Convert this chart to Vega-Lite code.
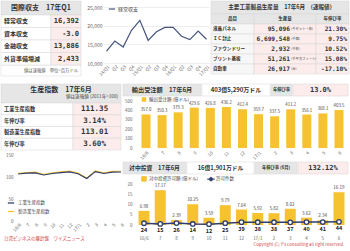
{
"$schema":"https://vega.github.io/schema/vega-lite/v6.json",
"padding":0,
"background":"#ffffff",
"spacing":6,
"resolve":{"scale":{"color":"independent"},"legend":{"color":"independent"}},
"config":{
 "view":{"stroke":null},
 "font":"Noto Sans CJK JP",
 "axis":{"domain":false,"ticks":false,"grid":false,"labelColor":"#666666","labelFont":"Noto Sans CJK JP","labelFontSize":4.5},
 "legend":{"labelFont":"Noto Sans CJK JP","labelColor":"#444444","labelFontSize":4.5,"padding":0},
 "rect":{"stroke":"#D5D5D5","strokeWidth":0.5}
},
"datasets":{
 "bop":[{"item":"経常収支","val":"16,392"},{"item":"資本収支","val":"-3.0"},{"item":"金融収支","val":"13,886"},{"item":"外貨準備増減","val":"2,433"}],
 "ca":[
  {"q":"2014-Q1","v":13200,"s":"経常収支"},{"q":"2014-Q2","v":15900,"s":"経常収支"},{"q":"2014-Q3","v":14300,"s":"経常収支"},{"q":"2014-Q4","v":18800,"s":"経常収支"},
  {"q":"2015-Q1","v":21500,"s":"経常収支"},{"q":"2015-Q2","v":16100,"s":"経常収支"},{"q":"2015-Q3","v":18400,"s":"経常収支"},{"q":"2015-Q4","v":19600,"s":"経常収支"},
  {"q":"2016-Q1","v":19600,"s":"経常収支"},{"q":"2016-Q2","v":17200,"s":"経常収支"},{"q":"2016-Q3","v":16300,"s":"経常収支"},{"q":"2016-Q4","v":18600,"s":"経常収支"},
  {"q":"2017-Q1","v":16392,"s":"経常収支"}],
 "prod":[
  {"k":"head","a":"品目","b":"生産量","u":"","c":"年伸び率"},
  {"k":"body","a":"液晶パネル","b":"95,096","u":"(千セット・枚)","c":"21.30%"},
  {"k":"body","a":"ＩＣ封止","b":"6,699,548","u":"(千個)","c":"9.75%"},
  {"k":"body","a":"ファウンドリー","b":"2,932","u":"(千枚)","c":"10.52%"},
  {"k":"body","a":"プリント基板","b":"51,261","u":"(千平方フィート)","c":"15.08%"},
  {"k":"body","a":"自動車","b":"26,917","u":"(台)","c":"-17.10%"}],
 "ipi":[{"id":"1","a":"工業生産指数","v":"111.35"},{"id":"2","a":"年伸び率","v":"3.14%"},{"id":"3","a":"製造業生産指数","v":"113.01"},{"id":"4","a":"年伸び率","v":"3.60%"}],
 "ipis":[
  {"m":"16/6","s":"製造業生産指数","v":108.3},{"m":"7","s":"製造業生産指数","v":110.4},{"m":"8","s":"製造業生産指数","v":111.0},{"m":"9","s":"製造業生産指数","v":105.9},{"m":"10","s":"製造業生産指数","v":109.6},{"m":"11","s":"製造業生産指数","v":111.6},{"m":"12","s":"製造業生産指数","v":113.5},{"m":"17/1","s":"製造業生産指数","v":109.1},{"m":"2","s":"製造業生産指数","v":97.6},{"m":"3","s":"製造業生産指数","v":114.0},{"m":"4","s":"製造業生産指数","v":109.6},{"m":"5","s":"製造業生産指数","v":112.7},{"m":"6","s":"製造業生産指数","v":113.01},
  {"m":"16/6","s":"工業生産指数","v":107.0},{"m":"7","s":"工業生産指数","v":108.9},{"m":"8","s":"工業生産指数","v":109.4},{"m":"9","s":"工業生産指数","v":104.6},{"m":"10","s":"工業生産指数","v":108.1},{"m":"11","s":"工業生産指数","v":110.0},{"m":"12","s":"工業生産指数","v":111.7},{"m":"17/1","s":"工業生産指数","v":107.5},{"m":"2","s":"工業生産指数","v":96.5},{"m":"3","s":"工業生産指数","v":112.3},{"m":"4","s":"工業生産指数","v":108.0},{"m":"5","s":"工業生産指数","v":111.0},{"m":"6","s":"工業生産指数","v":111.35}],
 "orders":[{"m":"16/6","v":357.0},{"m":"7","v":350.3},{"m":"8","v":379.3},{"m":"9","v":429.6},{"m":"10","v":426.8},{"m":"11","v":436.2},{"m":"12","v":412.4},{"m":"17/1","v":359.7},{"m":"2","v":337.5},{"m":"3","v":411.2},{"m":"4","v":356.1},{"m":"5","v":368.1},{"m":"6","v":403.5}],
 "inv":[{"m":"16/6","amt":6.98,"n":24},{"m":"7","amt":17.17,"n":15},{"m":"8","amt":2.39,"n":26},{"m":"9","amt":10.25,"n":14},{"m":"10","amt":3.59,"n":12},{"m":"11","amt":9.79,"n":25},{"m":"12","amt":7.64,"n":39},{"m":"17/1","amt":5.92,"n":38},{"m":"2","amt":5.82,"n":38},{"m":"3","amt":8.02,"n":37},{"m":"4","amt":3.62,"n":40},{"m":"5","amt":2.34,"n":41},{"m":"6","amt":16.19,"n":44}]
},
"vconcat":[
 {"hconcat":[
   {"width":101,"height":75,
    "layer":[
     {"data":{"values":[{"t":"国際収支　17年Q1","f":"値は速報値　単位=百万ドル"}]},
      "layer":[
       {"mark":{"type":"rect","fill":"#E6E6E6"},"encoding":{"x":{"datum":0,"type":"quantitative","scale":{"domain":[0,1]},"axis":null},"x2":{"datum":0.792},"y":{"datum":0.8133,"type":"quantitative","scale":{"domain":[0,1]},"axis":null},"y2":{"datum":1}}},
       {"mark":{"type":"text","fontSize":7,"fontWeight":"bold","color":"#333333"},"encoding":{"x":{"datum":0.396,"type":"quantitative"},"y":{"datum":0.9067,"type":"quantitative"},"text":{"field":"t"}}},
       {"mark":{"type":"rect","fill":"#FFFFFF"},"encoding":{"x":{"datum":0,"type":"quantitative"},"x2":{"datum":0.792},"y":{"datum":0,"type":"quantitative"},"y2":{"datum":0.1467}}},
       {"mark":{"type":"text","align":"right","dx":-3,"fontSize":4.3,"color":"#555555"},"encoding":{"x":{"datum":0.792,"type":"quantitative"},"y":{"datum":0.0733,"type":"quantitative"},"text":{"field":"f"}}}
      ]},
     {"data":{"name":"bop"},
      "layer":[
       {"mark":{"type":"rect","fill":"#FFFFFF"},"encoding":{"x":{"datum":0,"type":"quantitative","scale":{"domain":[0,1]},"axis":null},"x2":{"datum":0.495},"y":{"field":"item","type":"nominal","sort":null,"scale":{"paddingInner":0,"paddingOuter":1,"align":0.56},"axis":null}}},
       {"mark":{"type":"rect","fill":"#FCEDEC"},"encoding":{"x":{"datum":0.495,"type":"quantitative"},"x2":{"datum":0.792},"y":{"field":"item","type":"nominal","sort":null}}},
       {"mark":{"type":"text","align":"left","dx":3,"fontSize":6,"fontWeight":"bold","color":"#333333"},"encoding":{"x":{"datum":0,"type":"quantitative"},"y":{"field":"item","type":"nominal","sort":null},"text":{"field":"item"}}},
       {"mark":{"type":"text","align":"right","dx":-2,"font":"DejaVu Sans Mono","fontSize":7,"fontWeight":"bold","color":"#333333"},"encoding":{"x":{"datum":0.792,"type":"quantitative"},"y":{"field":"item","type":"nominal","sort":null},"text":{"field":"val"}}}
      ]}
    ],
    "resolve":{"scale":{"x":"independent","y":"independent"}}},
   {"width":105,"height":62,"data":{"name":"ca"},
    "mark":{"type":"line","strokeWidth":1.2},
    "encoding":{
     "x":{"field":"q","type":"nominal","sort":null,"scale":{"type":"point","padding":0.3},"axis":{"title":null,"labelAngle":-45,"labelFontSize":4.5,"labelPadding":1,"labelExpr":"indexof(datum.value,'Q1') > 0 ? slice(datum.value,2,4) + '/Q1' : slice(datum.value,5)"}},
     "y":{"field":"v","type":"quantitative","scale":{"domain":[10000,26700],"nice":false,"zero":false},"axis":{"title":null,"values":[10000,15000,20000,25000],"grid":true,"gridColor":"#E3E3E3","gridWidth":0.6,"labelFontSize":5,"labelPadding":2}},
     "color":{"field":"s","type":"nominal","scale":{"range":["#45557F"]},"legend":{"title":null,"orient":"top-left","offset":4,"symbolType":"stroke","symbolSize":40,"symbolStrokeWidth":1.2,"labelFontSize":5,"labelOffset":2}}
    }},
   {"width":138,"height":73,
    "layer":[
     {"data":{"values":[{"t":"主要工業製品生産量　17年6月　(速報値)"}]},
      "layer":[
       {"mark":{"type":"rect","fill":"#E6E6E6"},"encoding":{"x":{"datum":0,"type":"quantitative","scale":{"domain":[0,1]},"axis":null},"x2":{"datum":1},"y":{"datum":0.8219,"type":"quantitative","scale":{"domain":[0,1]},"axis":null},"y2":{"datum":1}}},
       {"mark":{"type":"text","fontSize":5.6,"fontWeight":"bold","color":"#333333"},"encoding":{"x":{"datum":0.5,"type":"quantitative"},"y":{"datum":0.911,"type":"quantitative"},"text":{"field":"t"}}}
      ]},
     {"data":{"name":"prod"},
      "layer":[
       {"mark":{"type":"rect"},"encoding":{"x":{"datum":0,"type":"quantitative","scale":{"domain":[0,1]},"axis":null},"x2":{"datum":0.3116},"y":{"field":"a","type":"nominal","sort":null,"scale":{"domain":["品目","液晶パネル","ＩＣ封止","ファウンドリー","プリント基板","自動車"],"paddingInner":0,"paddingOuter":0.65,"align":1},"axis":null},"fill":{"condition":{"test":"datum.k === 'head'","value":"#E6E6E6"},"value":"#F7F7F7"}}},
       {"mark":{"type":"rect"},"encoding":{"x":{"datum":0.3116,"type":"quantitative"},"x2":{"datum":0.7609},"y":{"field":"a","type":"nominal","sort":null},"fill":{"condition":{"test":"datum.k === 'head'","value":"#E6E6E6"},"value":"#FCEDEC"}}},
       {"mark":{"type":"rect"},"encoding":{"x":{"datum":0.7609,"type":"quantitative"},"x2":{"datum":1},"y":{"field":"a","type":"nominal","sort":null},"fill":{"condition":{"test":"datum.k === 'head'","value":"#E6E6E6"},"value":"#FCEDEC"}}},
       {"transform":[{"filter":"datum.k === 'head'"}],
        "layer":[
         {"mark":{"type":"text","fontSize":4.5,"fontWeight":"bold","color":"#333333"},"encoding":{"x":{"datum":0.1558,"type":"quantitative"},"y":{"field":"a","type":"nominal","sort":null},"text":{"field":"a"}}},
         {"mark":{"type":"text","fontSize":4.5,"fontWeight":"bold","color":"#333333"},"encoding":{"x":{"datum":0.5362,"type":"quantitative"},"y":{"field":"a","type":"nominal","sort":null},"text":{"field":"b"}}},
         {"mark":{"type":"text","fontSize":4.5,"fontWeight":"bold","color":"#333333"},"encoding":{"x":{"datum":0.8804,"type":"quantitative"},"y":{"field":"a","type":"nominal","sort":null},"text":{"field":"c"}}}
        ]},
       {"transform":[{"filter":"datum.k === 'body'"}],
        "layer":[
         {"mark":{"type":"text","align":"left","dx":2,"fontSize":4.6,"fontWeight":"bold","color":"#333333"},"encoding":{"x":{"datum":0,"type":"quantitative"},"y":{"field":"a","type":"nominal","sort":null},"text":{"field":"a"}}},
         {"mark":{"type":"text","align":"right","font":"DejaVu Sans Mono","fontSize":6.2,"fontWeight":"bold","color":"#333333"},"encoding":{"x":{"datum":0.5725,"type":"quantitative"},"y":{"field":"a","type":"nominal","sort":null},"text":{"field":"b"}}},
         {"mark":{"type":"text","align":"left","fontSize":3.3,"color":"#444444"},"encoding":{"x":{"datum":0.5812,"type":"quantitative"},"y":{"field":"a","type":"nominal","sort":null},"text":{"field":"u"}}},
         {"mark":{"type":"text","align":"right","dx":-2,"font":"DejaVu Sans Mono","fontSize":6.2,"fontWeight":"bold","color":"#333333"},"encoding":{"x":{"datum":1,"type":"quantitative"},"y":{"field":"a","type":"nominal","sort":null},"text":{"field":"c"}}}
        ]}
      ]}
    ],
    "resolve":{"scale":{"x":"independent","y":"independent"}}}
  ],"spacing":2,"bounds":"flush","resolve":{"scale":{"color":"independent"},"legend":{"color":"independent"}}},
 {"hconcat":[
   {"width":120,"height":137,
    "title":{"text":"台湾ビジネスの羅針盤　ワイズニュース","orient":"bottom","anchor":"start","frame":"group","offset":4,"dx":3,"fontSize":4.5,"fontWeight":"normal","color":"#D0453F","font":"Noto Sans CJK JP"},
    "layer":[
     {"layer":[
       {"data":{"values":[{"t1":"生産指数　17年6月","t2":"値は速報値 (2011年=100)"}]},
        "layer":[
         {"mark":{"type":"rect","fill":"#E6E6E6"},"encoding":{"x":{"datum":0,"type":"quantitative","scale":{"domain":[0,1]},"axis":null},"x2":{"datum":1},"y":{"datum":0.8613,"type":"quantitative","scale":{"domain":[0,1]},"axis":null},"y2":{"datum":1}}},
         {"mark":{"type":"text","fontSize":7,"fontWeight":"bold","color":"#333333"},"encoding":{"x":{"datum":0.5,"type":"quantitative"},"y":{"datum":0.9562,"type":"quantitative"},"text":{"field":"t1"}}},
         {"mark":{"type":"text","align":"right","dx":-3,"fontSize":4.6,"color":"#444444"},"encoding":{"x":{"datum":1,"type":"quantitative"},"y":{"datum":0.9015,"type":"quantitative"},"text":{"field":"t2"}}}
        ]},
       {"data":{"name":"ipi"},"transform":[{"filter":"datum.id === '1'"}],
        "layer":[
         {"mark":{"type":"rect","fill":"#FFFFFF"},"encoding":{"x":{"datum":0,"type":"quantitative"},"x2":{"datum":0.6},"y":{"datum":0.7755,"type":"quantitative"},"y2":{"datum":0.8613}}},
         {"mark":{"type":"rect","fill":"#FCEDEC"},"encoding":{"x":{"datum":0.6,"type":"quantitative"},"x2":{"datum":1},"y":{"datum":0.7755,"type":"quantitative"},"y2":{"datum":0.8613}}},
         {"mark":{"type":"text","align":"left","dx":3,"fontSize":5.2,"fontWeight":"bold","color":"#333333"},"encoding":{"x":{"datum":0,"type":"quantitative"},"y":{"datum":0.8184,"type":"quantitative"},"text":{"field":"a"}}},
         {"mark":{"type":"text","font":"DejaVu Sans Mono","fontSize":7.5,"fontWeight":"bold","color":"#333333"},"encoding":{"x":{"datum":0.78,"type":"quantitative"},"y":{"datum":0.8184,"type":"quantitative"},"text":{"field":"v"}}}
        ]},
       {"data":{"name":"ipi"},"transform":[{"filter":"datum.id === '2'"}],
        "layer":[
         {"mark":{"type":"rect","fill":"#FFFFFF"},"encoding":{"x":{"datum":0,"type":"quantitative"},"x2":{"datum":0.6},"y":{"datum":0.6898,"type":"quantitative"},"y2":{"datum":0.7755}}},
         {"mark":{"type":"rect","fill":"#FCEDEC"},"encoding":{"x":{"datum":0.6,"type":"quantitative"},"x2":{"datum":1},"y":{"datum":0.6898,"type":"quantitative"},"y2":{"datum":0.7755}}},
         {"mark":{"type":"text","align":"left","dx":3,"fontSize":5.2,"fontWeight":"bold","color":"#333333"},"encoding":{"x":{"datum":0,"type":"quantitative"},"y":{"datum":0.7327,"type":"quantitative"},"text":{"field":"a"}}},
         {"mark":{"type":"text","font":"DejaVu Sans Mono","fontSize":7.5,"fontWeight":"bold","color":"#333333"},"encoding":{"x":{"datum":0.78,"type":"quantitative"},"y":{"datum":0.7327,"type":"quantitative"},"text":{"field":"v"}}}
        ]},
       {"data":{"name":"ipi"},"transform":[{"filter":"datum.id === '3'"}],
        "layer":[
         {"mark":{"type":"rect","fill":"#FFFFFF"},"encoding":{"x":{"datum":0,"type":"quantitative"},"x2":{"datum":0.6},"y":{"datum":0.6040,"type":"quantitative"},"y2":{"datum":0.6898}}},
         {"mark":{"type":"rect","fill":"#FCEDEC"},"encoding":{"x":{"datum":0.6,"type":"quantitative"},"x2":{"datum":1},"y":{"datum":0.6040,"type":"quantitative"},"y2":{"datum":0.6898}}},
         {"mark":{"type":"text","align":"left","dx":3,"fontSize":5.2,"fontWeight":"bold","color":"#333333"},"encoding":{"x":{"datum":0,"type":"quantitative"},"y":{"datum":0.6469,"type":"quantitative"},"text":{"field":"a"}}},
         {"mark":{"type":"text","font":"DejaVu Sans Mono","fontSize":7.5,"fontWeight":"bold","color":"#333333"},"encoding":{"x":{"datum":0.78,"type":"quantitative"},"y":{"datum":0.6469,"type":"quantitative"},"text":{"field":"v"}}}
        ]},
       {"data":{"name":"ipi"},"transform":[{"filter":"datum.id === '4'"}],
        "layer":[
         {"mark":{"type":"rect","fill":"#FFFFFF"},"encoding":{"x":{"datum":0,"type":"quantitative"},"x2":{"datum":0.6},"y":{"datum":0.5182,"type":"quantitative"},"y2":{"datum":0.6040}}},
         {"mark":{"type":"rect","fill":"#FCEDEC"},"encoding":{"x":{"datum":0.6,"type":"quantitative"},"x2":{"datum":1},"y":{"datum":0.5182,"type":"quantitative"},"y2":{"datum":0.6040}}},
         {"mark":{"type":"text","align":"left","dx":3,"fontSize":5.2,"fontWeight":"bold","color":"#333333"},"encoding":{"x":{"datum":0,"type":"quantitative"},"y":{"datum":0.5611,"type":"quantitative"},"text":{"field":"a"}}},
         {"mark":{"type":"text","font":"DejaVu Sans Mono","fontSize":7.5,"fontWeight":"bold","color":"#333333"},"encoding":{"x":{"datum":0.78,"type":"quantitative"},"y":{"datum":0.5611,"type":"quantitative"},"text":{"field":"v"}}}
        ]}
      ]},
     {"data":{"name":"ipis"},
      "mark":{"type":"line","strokeWidth":1.1},
      "encoding":{
       "x":{"field":"m","type":"nominal","sort":null,"scale":{"type":"point","padding":1,"align":1},"axis":{"title":null,"orient":"bottom","labelAngle":-45,"labelPadding":1}},
       "y":{"field":"v","type":"quantitative","scale":{"domain":[0,311.4],"nice":false},"axis":{"title":null,"orient":"left","values":[0,50,100,150],"labelPadding":-12}},
       "color":{"field":"s","type":"nominal","scale":{"domain":["工業生産指数","製造業生産指数"],"range":["#2E3D6D","#F7C22F"]},"legend":{"title":null,"orient":"bottom-left","offset":6,"symbolType":"stroke","symbolSize":40,"symbolStrokeWidth":1.3,"rowPadding":1.5,"labelOffset":3}}
      }}
    ],
    "resolve":{"scale":{"x":"independent","y":"independent","color":"independent"},"axis":{"x":"independent","y":"independent"},"legend":{"color":"independent"}}},
   {"width":226,"height":141,
    "title":{"text":"Copyright (C) Y's consulting all right reserved.","orient":"bottom","anchor":"end","frame":"group","offset":3,"dx":-5,"fontSize":4.3,"fontWeight":"normal","color":"#D0453F","font":"Noto Sans CJK JP"},
    "layer":[
     {"layer":[
       {"data":{"values":[{"t":"輸出受注額　17年6月"}]},"layer":[
         {"mark":{"type":"rect","fill":"#E6E6E6"},"encoding":{"x":{"datum":0,"type":"quantitative","scale":{"domain":[0,1]},"axis":null},"x2":{"datum":0.3451},"y":{"datum":0.9149,"type":"quantitative","scale":{"domain":[0,1]},"axis":null},"y2":{"datum":1}}},
         {"mark":{"type":"text","fontSize":6.2,"fontWeight":"bold","color":"#333333"},"encoding":{"x":{"datum":0.1726,"type":"quantitative"},"y":{"datum":0.9574,"type":"quantitative"},"text":{"field":"t"}}}]},
       {"data":{"values":[{"t":"403億5,290万ドル"}]},"layer":[
         {"mark":{"type":"rect","fill":"#FFFFFF"},"encoding":{"x":{"datum":0.3496,"type":"quantitative"},"x2":{"datum":0.6504},"y":{"datum":0.9149,"type":"quantitative"},"y2":{"datum":1}}},
         {"mark":{"type":"text","fontSize":6,"fontWeight":"bold","color":"#333333"},"encoding":{"x":{"datum":0.5,"type":"quantitative"},"y":{"datum":0.9574,"type":"quantitative"},"text":{"field":"t"}}}]},
       {"data":{"values":[{"t":"年伸び率"}]},"layer":[
         {"mark":{"type":"rect","fill":"#E6E6E6"},"encoding":{"x":{"datum":0.6549,"type":"quantitative"},"x2":{"datum":0.7478},"y":{"datum":0.9149,"type":"quantitative"},"y2":{"datum":1}}},
         {"mark":{"type":"text","fontSize":4.3,"fontWeight":"bold","color":"#333333"},"encoding":{"x":{"datum":0.7013,"type":"quantitative"},"y":{"datum":0.9574,"type":"quantitative"},"text":{"field":"t"}}}]},
       {"data":{"values":[{"t":"13.0%"}]},"layer":[
         {"mark":{"type":"rect","fill":"#FCEDEC"},"encoding":{"x":{"datum":0.7522,"type":"quantitative"},"x2":{"datum":0.9956},"y":{"datum":0.9149,"type":"quantitative"},"y2":{"datum":1}}},
         {"mark":{"type":"text","font":"DejaVu Sans Mono","fontSize":7,"fontWeight":"bold","color":"#333333"},"encoding":{"x":{"datum":0.8739,"type":"quantitative"},"y":{"datum":0.9574,"type":"quantitative"},"text":{"field":"t"}}}]},
       {"data":{"values":[{"t":"対中投資　17年6月"}]},"layer":[
         {"mark":{"type":"rect","fill":"#E6E6E6"},"encoding":{"x":{"datum":0,"type":"quantitative"},"x2":{"datum":0.2788},"y":{"datum":0.3617,"type":"quantitative"},"y2":{"datum":0.4468}}},
         {"mark":{"type":"text","fontSize":5.8,"fontWeight":"bold","color":"#333333"},"encoding":{"x":{"datum":0.1394,"type":"quantitative"},"y":{"datum":0.4043,"type":"quantitative"},"text":{"field":"t"}}}]},
       {"data":{"values":[{"t":"16億1,901万ドル"}]},"layer":[
         {"mark":{"type":"rect","fill":"#FFFFFF"},"encoding":{"x":{"datum":0.2832,"type":"quantitative"},"x2":{"datum":0.5796},"y":{"datum":0.3617,"type":"quantitative"},"y2":{"datum":0.4468}}},
         {"mark":{"type":"text","fontSize":5.8,"fontWeight":"bold","color":"#333333"},"encoding":{"x":{"datum":0.4314,"type":"quantitative"},"y":{"datum":0.4043,"type":"quantitative"},"text":{"field":"t"}}}]},
       {"data":{"values":[{"t":"年伸び率 (6月)"}]},"layer":[
         {"mark":{"type":"rect","fill":"#E6E6E6"},"encoding":{"x":{"datum":0.5841,"type":"quantitative"},"x2":{"datum":0.7699},"y":{"datum":0.3617,"type":"quantitative"},"y2":{"datum":0.4468}}},
         {"mark":{"type":"text","fontSize":4.3,"fontWeight":"bold","color":"#333333"},"encoding":{"x":{"datum":0.677,"type":"quantitative"},"y":{"datum":0.4043,"type":"quantitative"},"text":{"field":"t"}}}]},
       {"data":{"values":[{"t":"132.12%"}]},"layer":[
         {"mark":{"type":"rect","fill":"#FCEDEC"},"encoding":{"x":{"datum":0.7743,"type":"quantitative"},"x2":{"datum":0.9956},"y":{"datum":0.3617,"type":"quantitative"},"y2":{"datum":0.4468}}},
         {"mark":{"type":"text","font":"DejaVu Sans Mono","fontSize":7,"fontWeight":"bold","color":"#333333"},"encoding":{"x":{"datum":0.885,"type":"quantitative"},"y":{"datum":0.4043,"type":"quantitative"},"text":{"field":"t"}}}]}
      ]},
     {"data":{"name":"orders"},
      "encoding":{
       "x":{"field":"m","type":"nominal","sort":null,"scale":{"type":"band","paddingInner":0.44,"paddingOuter":0.7475,"align":0.77},"axis":{"title":null,"orient":"bottom","offset":-77,"labelAngle":-45,"labelPadding":2}},
       "y":{"field":"v","type":"quantitative","scale":{"domain":[-819.1,680.9],"nice":false},"axis":{"title":null,"orient":"left","values":[0,100,200,300,400,500],"labelPadding":-9}}
      },
      "layer":[
       {"mark":{"type":"bar"},"encoding":{"color":{"datum":"輸出受注額 (億ドル)","type":"nominal","scale":{"range":["#F7C22F"]},"legend":{"title":null,"orient":"none","legendX":18,"legendY":12.5,"symbolType":"square","symbolSize":20,"labelFontSize":4.5,"labelOffset":2}}}},
       {"mark":{"type":"text","dy":-4,"fontSize":4.3,"color":"#444444"},"encoding":{"text":{"field":"v","format":".1f"}}}
      ]},
     {"data":{"name":"inv"},
      "encoding":{
       "x":{"field":"m","type":"nominal","sort":null,"scale":{"type":"band","paddingInner":0.323,"paddingOuter":0.6155,"align":0.775},"axis":{"title":null,"orient":"bottom","labelAngle":0,"labelPadding":10}}
      },
      "layer":[
       {"encoding":{"y":{"field":"amt","type":"quantitative","scale":{"domain":[0,69.63],"nice":false},"axis":{"title":null,"orient":"left","values":[0,5,10,15,20],"labelPadding":-9}}},
        "layer":[
         {"mark":{"type":"bar"},"encoding":{"color":{"datum":"対中投資許可額 (億ドル)","type":"nominal","scale":{"domain":["対中投資許可額 (億ドル)","許可件数"],"range":["#F7C22F","#2E3D6D"]},
           "legend":{"title":null,"orient":"none","legendX":18,"legendY":91.5,"direction":"horizontal","symbolType":"square","symbolSize":50,"labelFontSize":4.5,"columnPadding":6,"labelOffset":2,
            "encode":{"symbols":{"update":{
              "shape":{"signal":"datum.value === '許可件数' ? 'M-1,0L-0.45,0M0.45,0L1,0M0.45,0A0.45,0.45,0,1,1,-0.45,0A0.45,0.45,0,1,1,0.45,0' : 'square'"},
              "size":{"signal":"datum.value === '許可件数' ? 60 : 20"},
              "fill":{"signal":"datum.value === '許可件数' ? '#ffffff' : '#F7C22F'"},
              "stroke":{"signal":"datum.value === '許可件数' ? '#2E3D6D' : '#F7C22F'"},
              "strokeWidth":{"value":1},
              "opacity":{"value":1}}}}}}}},
         {"mark":{"type":"text","dy":-4,"fontSize":4.5,"color":"#444444"},"encoding":{"text":{"field":"amt","format":".2f"}}}
        ]},
       {"encoding":{"y":{"field":"n","type":"quantitative","scale":{"domain":[0,1935],"nice":false},"axis":null}},
        "layer":[
         {"mark":{"type":"line","strokeWidth":1.5},"encoding":{"color":{"datum":"許可件数","type":"nominal"}}},
         {"mark":{"type":"point","filled":true,"fill":"#FFFFFF","stroke":"#2E3D6D","strokeWidth":1.3,"size":20,"opacity":1},"encoding":{}},
         {"mark":{"type":"text","dy":6.5,"fontSize":5.5,"fontWeight":"bold","color":"#222222"},"encoding":{"text":{"field":"n"}}}
        ]}
      ],
      "resolve":{"scale":{"y":"independent"}}}
    ],
    "resolve":{"scale":{"x":"independent","y":"independent","color":"independent"},"axis":{"x":"independent","y":"independent"},"legend":{"color":"independent"}}}
  ],"spacing":2,"bounds":"flush","resolve":{"scale":{"color":"independent"},"legend":{"color":"independent"}}}
]
}
